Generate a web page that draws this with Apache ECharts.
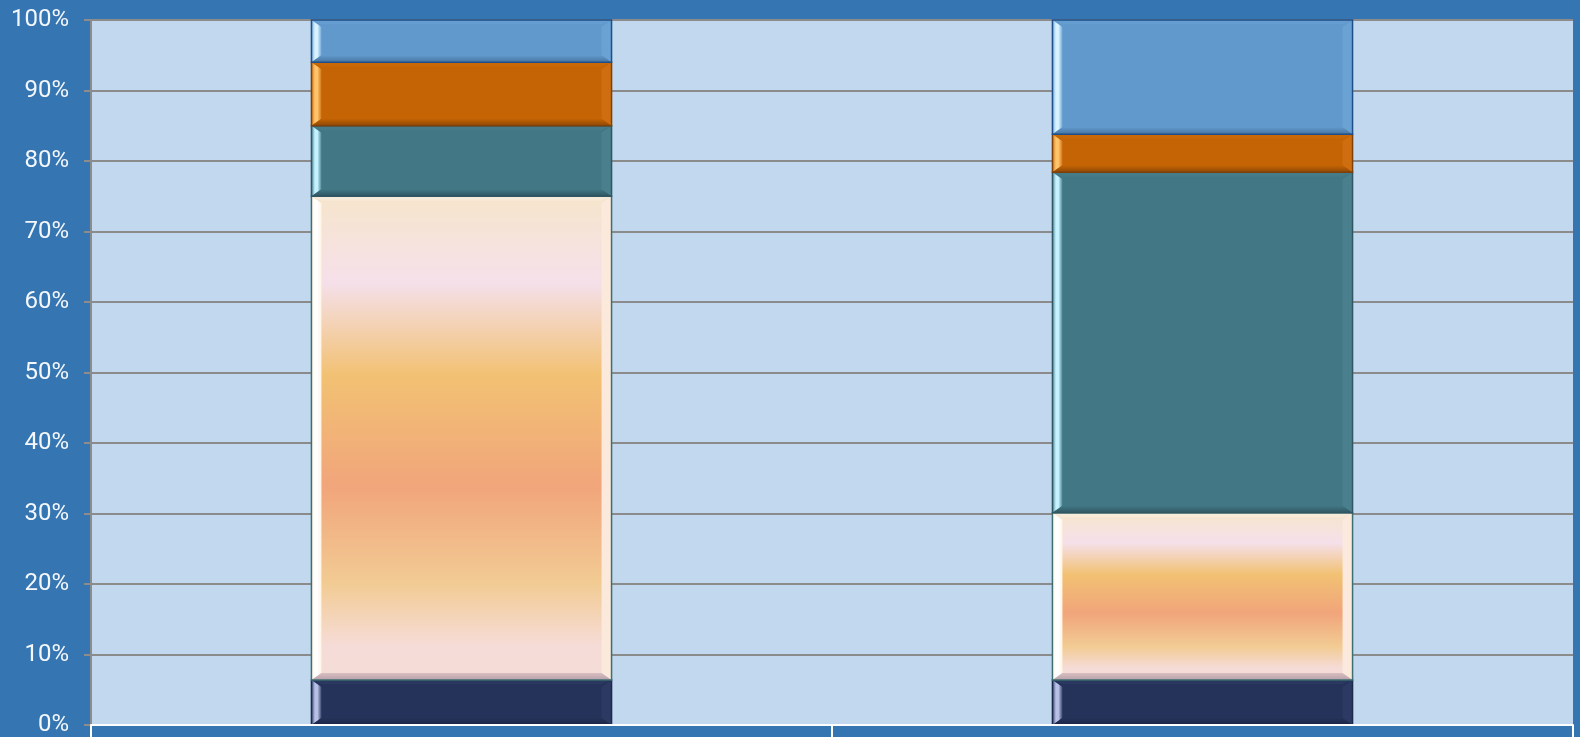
<!DOCTYPE html>
<html>
<head>
<meta charset="utf-8">
<script src="https://cdn.jsdelivr.net/npm/echarts@6/dist/echarts.min.js"></script>
<style>
  html, body { margin: 0; padding: 0; background: #3475b2; }
  #chart { width: 1580px; height: 737px; }
</style>
</head>
<body>
<div id="chart"></div>
<script>
// Categories and stacked shares (percent of each column)
const categories = ['1', '2'];
const seriesNames = ['Navy', 'Cream', 'Teal', 'Orange', 'Blue'];
const navyValues = [6.4, 6.4];
const creamValues = [68.6, 23.7];
const tealValues = [10.0, 48.3];
const orangeValues = [9.0, 5.4];
const blueValues = [6.0, 16.2];
const yTicks = [0, 10, 20, 30, 40, 50, 60, 70, 80, 90, 100];

const layers = [navyValues, creamValues, tealValues, orangeValues, blueValues];

// Bevel styling per layer
const styles = [
  { main: '#25335a', left: ['#b8c0e6', '#3a4670'], right: '#2c3a63', top: '#2a3862', bottom: '#1b2446', border: '#1c2a4c' },
  { main: null, left: ['#ffffff', '#fff4e2'], right: '#fbeadc', top: '#f8ead8', bottom: '#b9a1ab', border: '#3d6f70' },
  { main: '#427885', left: ['#c4f2ff', '#4e8795'], right: '#4a808d', top: '#467c89', bottom: '#2f5561', border: '#2f5662' },
  { main: '#c46404', left: ['#ffc46a', '#d27418'], right: '#cf6e10', top: '#c86806', bottom: '#8f4807', border: '#7c4108' },
  { main: '#6199cc', left: ['#d8f3ff', '#72a8da'], right: '#6aa2d4', top: '#659dd0', bottom: '#47749f', border: '#1f4f88' }
];

const creamGradient = {
  type: 'linear', x: 0, y: 0, x2: 0, y2: 1,
  colorStops: [
    { offset: 0.0, color: '#f6e5cc' },
    { offset: 0.18, color: '#f5e0ea' },
    { offset: 0.37, color: '#f2c173' },
    { offset: 0.6, color: '#f1a57b' },
    { offset: 0.8, color: '#f2cb93' },
    { offset: 0.93, color: '#f6dcd8' },
    { offset: 1.0, color: '#f4dcd6' }
  ]
};

function makeSeries(layerIdx) {
  const data = categories.map((c, i) => {
    let start = 0;
    for (let k = 0; k < layerIdx; k++) start += layers[k][i];
    return [i, start, start + layers[layerIdx][i]];
  });
  const st = styles[layerIdx];
  return {
    name: seriesNames[layerIdx],
    type: 'custom',
    coordinateSystem: 'cartesian2d',
    encode: { x: 0, y: [1, 2] },
    data: data,
    z: 2 + layerIdx,
    renderItem: function (params, api) {
      const cat = api.value(0);
      const p0 = api.coord([cat, api.value(1)]);
      const p1 = api.coord([cat, api.value(2)]);
      const band = api.size([1, 0])[0];
      const w = band * 0.405;
      const x = p0[0] - w / 2;
      const y = p1[1];
      const h = p0[1] - p1[1];
      const bx = Math.min(10, w / 2);
      const by = Math.min(7, h / 2);
      const fill = st.main || creamGradient;
      return {
        type: 'group',
        children: [
          { type: 'rect', shape: { x: x, y: y, width: w, height: h }, style: { fill: fill } },
          { type: 'polygon', shape: { points: [[x, y], [x + w, y], [x + w - bx, y + by * 0.6], [x + bx, y + by * 0.6]] }, style: { fill: st.top } },
          { type: 'polygon', shape: { points: [[x + w, y], [x + w - bx, y + by], [x + w - bx, y + h - by], [x + w, y + h]] }, style: { fill: st.right } },
          { type: 'polygon', shape: { points: [[x, y], [x + bx, y + by], [x + bx, y + h - by], [x, y + h]] },
            style: { fill: { type: 'linear', x: 0, y: 0, x2: 1, y2: 0, colorStops: [
              { offset: 0, color: st.left[1] }, { offset: 0.35, color: st.left[0] }, { offset: 0.6, color: st.left[0] }, { offset: 1, color: st.left[1] } ] } } },
          { type: 'polygon', shape: { points: [[x, y + h], [x + bx, y + h - by], [x + w - bx, y + h - by], [x + w, y + h]] },
            style: { fill: { type: 'linear', x: 0, y: 0, x2: 0, y2: 1, colorStops: [
              { offset: 0, color: st.main || '#d9bfc2' }, { offset: 1, color: st.bottom } ] } } },
          { type: 'rect', shape: { x: x, y: y, width: w, height: h }, style: { fill: 'none', stroke: st.border, lineWidth: 1.5 } }
        ]
      };
    }
  };
}

const chart = echarts.init(document.getElementById('chart'), null, { renderer: 'canvas' });
chart.setOption({
  backgroundColor: '#3475b2',
  animation: false,
  grid: {
    left: 91, right: 7, top: 20, bottom: 11.5,
    show: true, backgroundColor: '#c1d8ee', borderWidth: 0
  },
  xAxis: {
    type: 'category',
    data: categories,
    boundaryGap: true,
    axisLine: { show: true, lineStyle: { color: '#ffffff', width: 2 } },
    axisTick: { show: true, length: 16, lineStyle: { color: '#ffffff', width: 2 } },
    axisLabel: { show: false },
    splitLine: { show: false },
    z: 10
  },
  yAxis: {
    type: 'value',
    min: yTicks[0],
    max: yTicks[yTicks.length - 1],
    interval: yTicks[1] - yTicks[0],
    axisLine: { show: true, lineStyle: { color: '#8c8c8c', width: 2 } },
    axisTick: { show: true, length: 7, lineStyle: { color: '#8c8c8c', width: 2 } },
    axisLabel: {
      formatter: '{value}%',
      color: '#f4f7fb',
      fontFamily: 'Roboto',
      fontSize: 24,
      margin: 22
    },
    splitLine: { show: true, lineStyle: { color: '#8b8b8b', width: 2 } }
  },
  series: layers.map((_, i) => makeSeries(i))
});
</script>
</body>
</html>
